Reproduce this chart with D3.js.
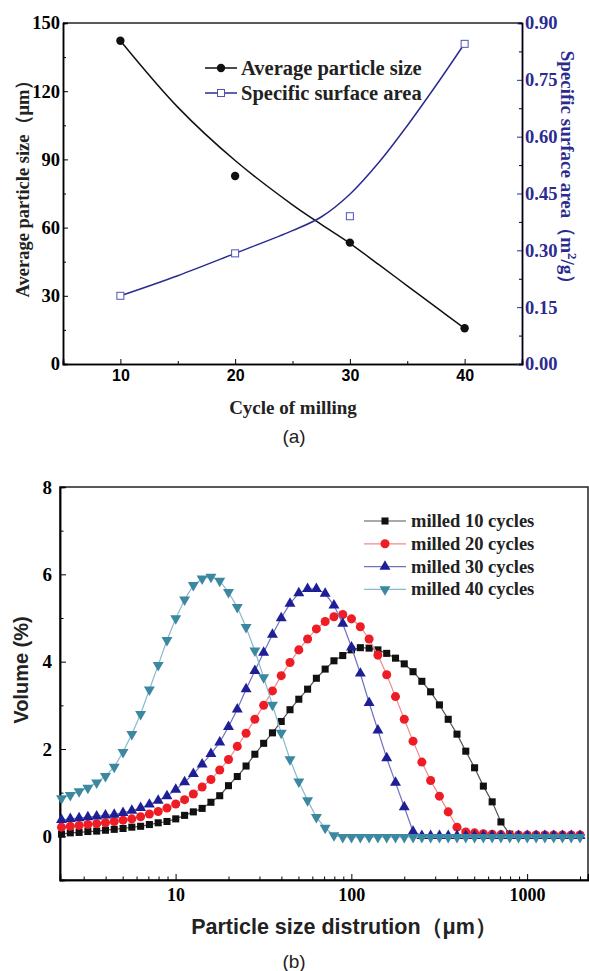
<!DOCTYPE html>
<html>
<head>
<meta charset="utf-8">
<script src="https://cdn.jsdelivr.net/npm/d3@7"></script>
<style>
  body { margin: 0; background: #fff; }
  .serif { font-family: "Liberation Serif", "DejaVu Serif", serif; font-weight: bold; }
  .sans { font-family: "Liberation Sans", Arial, sans-serif; }
</style>
</head>
<body>
<div id="chart"></div>
<script>
/////////////////////// data (a) ///////////////////////
var cycles = [10, 20, 30, 40];
var avgSize = [142.2, 82.7, 53.4, 15.7];
var surfArea = [0.18, 0.292, 0.39, 0.845];
// fitted curves
var fitCycles = [10, 15, 20, 25, 27.5, 30, 32.5, 35, 37.5, 40];
var avgSizeFit = [142.2, 113, 89.5, 70, 61.4, 53.1, 43.8, 34.4, 25.0, 15.7];
var surfAreaFit = [0.18, 0.233, 0.292, 0.352, 0.388, 0.448, 0.531, 0.629, 0.735, 0.846];
var leftTicks = [0, 30, 60, 90, 120, 150];
var rightTicks = [0, 0.15, 0.30, 0.45, 0.60, 0.75, 0.90];
var cycleTicks = [10, 20, 30, 40];

/////////////////////// data (b) ///////////////////////
var sizes = [2.244, 2.518, 2.825, 3.170, 3.557, 3.991, 4.477, 5.024, 5.637, 6.325,
  7.096, 7.962, 8.934, 10.02, 11.25, 12.62, 14.16, 15.89, 17.83, 20.00,
  22.44, 25.18, 28.25, 31.70, 35.57, 39.91, 44.77, 50.24, 56.37, 63.25,
  70.96, 79.62, 89.34, 100.2, 112.5, 126.2, 141.6, 158.9, 178.3, 200.0,
  224.4, 251.8, 282.5, 317.0, 355.7, 399.1, 447.7, 502.4, 563.7, 632.5,
  709.6, 796.2, 893.4, 1002, 1125, 1262, 1416, 1589, 1783, 2000];
var milled10 = [0.05, 0.08, 0.09, 0.11, 0.12, 0.14, 0.16, 0.18, 0.21, 0.23,
  0.27, 0.31, 0.34, 0.40, 0.48, 0.56, 0.64, 0.78, 0.93, 1.16,
  1.37, 1.61, 1.88, 2.13, 2.37, 2.63, 2.90, 3.14, 3.37, 3.62,
  3.83, 4.02, 4.14, 4.27, 4.32, 4.31, 4.27, 4.19, 4.08, 3.95,
  3.77, 3.55, 3.31, 3.01, 2.68, 2.34, 1.95, 1.57, 1.15, 0.79,
  0.33, 0.05, 0.02, 0.02, 0.02, 0.02, 0.02, 0.02, 0.02, 0.02];
var milled20 = [0.21, 0.23, 0.25, 0.27, 0.29, 0.31, 0.34, 0.37, 0.40, 0.45,
  0.51, 0.57, 0.65, 0.74, 0.84, 0.97, 1.13, 1.30, 1.52, 1.76,
  2.06, 2.36, 2.68, 3.00, 3.33, 3.68, 3.98, 4.27, 4.52, 4.75,
  4.92, 5.03, 5.08, 4.98, 4.80, 4.52, 4.15, 3.70, 3.20, 2.68,
  2.18, 1.70, 1.28, 0.92, 0.56, 0.21, 0.10, 0.08, 0.06, 0.05,
  0.04, 0.03, 0.03, 0.03, 0.03, 0.03, 0.03, 0.03, 0.03, 0.03];
var milled30 = [0.38, 0.40, 0.42, 0.44, 0.46, 0.48, 0.50, 0.54, 0.59, 0.65,
  0.73, 0.82, 0.92, 1.07, 1.24, 1.43, 1.65, 1.89, 2.15, 2.51,
  2.91, 3.37, 3.79, 4.21, 4.62, 5.00, 5.33, 5.57, 5.67, 5.67,
  5.56, 5.29, 4.87, 4.33, 3.73, 3.06, 2.43, 1.79, 1.23, 0.67,
  0.11, 0.01, 0.01, 0.01, 0.01, 0.01, 0.01, 0.01, 0.01, 0.01,
  0.01, 0.01, 0.01, 0.01, 0.01, 0.01, 0.01, 0.01, 0.01, 0.01];
var milled40 = [0.87, 0.94, 1.03, 1.11, 1.23, 1.38, 1.59, 1.93, 2.34, 2.80,
  3.36, 3.92, 4.49, 4.99, 5.42, 5.75, 5.90, 5.94, 5.85, 5.59,
  5.25, 4.79, 4.25, 3.64, 3.01, 2.37, 1.76, 1.25, 0.82, 0.44,
  0.19, 0.02, -0.02, -0.02, -0.02, -0.02, -0.02, -0.02, -0.02, -0.02,
  -0.02, -0.02, -0.02, -0.02, -0.02, -0.02, -0.02, -0.02, -0.02, -0.02,
  -0.02, -0.02, -0.02, -0.02, -0.02, -0.02, -0.02, -0.02, -0.02, -0.02];
var seriesNames = ["milled 10 cycles", "milled 20 cycles", "milled 30 cycles", "milled 40 cycles"];
var volTicks = [0, 2, 4, 6, 8];
var sizeTicks = [10, 100, 1000];

var width = 589, height = 971;
var svg = d3.select("#chart").append("svg")
  .attr("width", width).attr("height", height);

var navy = "#2b2b8f";

/////////////////////// chart (a) ///////////////////////
var xA = d3.scaleLinear().domain([5, 45]).range([63, 522]);
var yL = d3.scaleLinear().domain([0, 150]).range([364, 23]);
var yR = d3.scaleLinear().domain([0, 0.9]).range([364, 23]);

// frame top
svg.append("line").attr("x1", 63).attr("x2", 522).attr("y1", 23).attr("y2", 23)
  .attr("stroke", "#222").attr("stroke-width", 1.5);

var gxA = svg.append("g").attr("transform", "translate(0,364)")
  .call(d3.axisBottom(xA).tickValues(cycleTicks).tickSize(-5).tickPadding(6).tickFormat(d3.format("d")));
svg.append("g").attr("transform", "translate(0,364)")
  .call(d3.axisBottom(xA).tickValues([15, 25, 35]).tickSize(-3).tickFormat(""));
gxA.selectAll("text").attr("class", "sans").style("font-weight", "bold").style("font-size", "16px");

var gyL = svg.append("g").attr("transform", "translate(63,0)")
  .call(d3.axisLeft(yL).tickValues(leftTicks).tickSize(-5).tickPadding(3));
svg.append("g").attr("transform", "translate(63,0)")
  .call(d3.axisLeft(yL).tickValues([15, 45, 75, 105, 135]).tickSize(-3).tickFormat(""));
gyL.selectAll("text").attr("class", "serif").style("font-size", "18.5px");

var gyR = svg.append("g").attr("transform", "translate(522,0)")
  .call(d3.axisRight(yR).tickValues(rightTicks).tickSize(-5).tickPadding(3).tickFormat(d3.format(".2f")));
svg.append("g").attr("transform", "translate(522,0)")
  .call(d3.axisRight(yR).tickValues([0.075, 0.225, 0.375, 0.525, 0.675, 0.825]).tickSize(-3).tickFormat(""));
gyR.selectAll("text").attr("class", "serif").style("font-size", "18.5px").attr("fill", navy);

svg.selectAll(".domain").attr("stroke-width", 1.5);
gyR.select(".domain").attr("stroke", navy);
gyR.selectAll("line").attr("stroke", navy);

// fitted lines
var lineL = d3.line().x(function(d, i) { return xA(fitCycles[i]); }).y(function(d) { return yL(d); })
  .curve(d3.curveCatmullRom);
var lineR = d3.line().x(function(d, i) { return xA(fitCycles[i]); }).y(function(d) { return yR(d); })
  .curve(d3.curveCatmullRom);
svg.append("path").attr("d", lineL(avgSizeFit)).attr("fill", "none").attr("stroke", "#111").attr("stroke-width", 1.5);
svg.append("path").attr("d", lineR(surfAreaFit)).attr("fill", "none").attr("stroke", navy).attr("stroke-width", 1.5);

svg.selectAll(".ptL").data(avgSize).enter().append("circle")
  .attr("cx", function(d, i) { return xA(cycles[i]); })
  .attr("cy", function(d) { return yL(d); })
  .attr("r", 4.2).attr("fill", "#111");
svg.selectAll(".ptR").data(surfArea).enter().append("rect")
  .attr("x", function(d, i) { return xA(cycles[i]) - 3.5; })
  .attr("y", function(d) { return yR(d) - 3.5; })
  .attr("width", 7).attr("height", 7)
  .attr("fill", "#fff").attr("stroke", "#5050c0").attr("stroke-width", 1);

// legend (a)
var legA = svg.append("g");
legA.append("line").attr("x1", 205).attr("x2", 237).attr("y1", 68).attr("y2", 68).attr("stroke", "#111").attr("stroke-width", 1.5);
legA.append("circle").attr("cx", 221).attr("cy", 68).attr("r", 4.2).attr("fill", "#111");
legA.append("text").attr("class", "serif").attr("x", 241).attr("y", 75).style("font-size", "20.5px").attr("fill", "#222").text("Average particle size");
legA.append("line").attr("x1", 205).attr("x2", 237).attr("y1", 93).attr("y2", 93).attr("stroke", navy).attr("stroke-width", 1.5);
legA.append("rect").attr("x", 217.5).attr("y", 89.5).attr("width", 7).attr("height", 7)
  .attr("fill", "#fff").attr("stroke", "#5050c0").attr("stroke-width", 1);
legA.append("text").attr("class", "serif").attr("x", 241).attr("y", 100).style("font-size", "20.5px").attr("fill", "#222").text("Specific surface area");

// titles (a)
svg.append("text").attr("class", "serif").attr("x", 293).attr("y", 414).attr("text-anchor", "middle")
  .style("font-size", "19px").attr("fill", "#222").text("Cycle of milling");
svg.append("text").attr("class", "serif").attr("text-anchor", "middle")
  .attr("transform", "translate(29,184) rotate(-90)")
  .style("font-size", "18.5px").attr("fill", "#222").text("Average particle size（μm）");
var tR = svg.append("text").attr("class", "serif").attr("text-anchor", "middle")
  .attr("transform", "translate(561,172) rotate(90)")
  .style("font-size", "19px").attr("fill", navy);
tR.append("tspan").text("Specific surface area（m");
tR.append("tspan").attr("baseline-shift", "super").style("font-size", "13px").text("2");
tR.append("tspan").text("/g）");
svg.append("text").attr("class", "sans").attr("x", 294).attr("y", 443).attr("text-anchor", "middle")
  .style("font-size", "19px").attr("fill", "#222").text("(a)");

/////////////////////// chart (b) ///////////////////////
var xB = d3.scaleLog().domain([2.2, 2220]).range([60, 588]);
var yB = d3.scaleLinear().domain([-1, 8]).range([880, 487]);

svg.append("rect").attr("x", 60).attr("y", 487).attr("width", 528).attr("height", 393)
  .attr("fill", "none").attr("stroke", "#222").attr("stroke-width", 1.5);

var minorSizes = [3, 4, 5, 6, 7, 8, 9, 20, 30, 40, 50, 60, 70, 80, 90, 200, 300, 400, 500, 600, 700, 800, 900, 2000];
var gxB = svg.append("g").attr("transform", "translate(0,880)")
  .call(d3.axisBottom(xB).tickValues(sizeTicks).tickSize(-6).tickPadding(8).tickFormat(d3.format("d")));
svg.append("g").attr("transform", "translate(0,880)")
  .call(d3.axisBottom(xB).tickValues(minorSizes).tickSize(-3.5).tickFormat(""));
gxB.selectAll("text").attr("class", "serif").style("font-size", "18px");

var gyB = svg.append("g").attr("transform", "translate(60,0)")
  .call(d3.axisLeft(yB).tickValues(volTicks).tickSize(-6).tickPadding(8));
svg.append("g").attr("transform", "translate(60,0)")
  .call(d3.axisLeft(yB).tickValues([-1, 1, 3, 5, 7]).tickSize(-3.5).tickFormat(""));
gyB.selectAll("text").attr("class", "serif").style("font-size", "19px");
svg.selectAll(".domain").attr("stroke-width", 1.5);

var series = [
  { name: seriesNames[0], values: milled10, color: "#111", line: "#555", symbol: d3.symbolSquare, size: 50, rot: 0 },
  { name: seriesNames[1], values: milled20, color: "#ee1c24", line: "#f08a8a", symbol: d3.symbolCircle, size: 64, rot: 0 },
  { name: seriesNames[2], values: milled30, color: "#1e1e96", line: "#7070c0", symbol: d3.symbolTriangle, size: 52, rot: 0 },
  { name: seriesNames[3], values: milled40, color: "#3b88a0", line: "#8ab8cc", symbol: d3.symbolTriangle, size: 52, rot: 180 }
];

var lineB = d3.line().x(function(d, i) { return xB(sizes[i]); }).y(function(d) { return yB(d); });

series.forEach(function(s) {
  svg.append("path").attr("d", lineB(s.values)).attr("fill", "none")
    .attr("stroke", s.line).attr("stroke-width", 1.2);
  svg.append("g").selectAll("path").data(s.values).enter().append("path")
    .attr("d", d3.symbol().type(s.symbol).size(s.size))
    .attr("transform", function(d, i) {
      return "translate(" + xB(sizes[i]) + "," + yB(d) + ") rotate(" + s.rot + ")";
    })
    .attr("fill", s.color);
});

// legend (b)
series.forEach(function(s, i) {
  var ly = 521 + i * 22.8;
  svg.append("line").attr("x1", 364).attr("x2", 406).attr("y1", ly).attr("y2", ly)
    .attr("stroke", s.line).attr("stroke-width", 1.2);
  svg.append("path").attr("d", d3.symbol().type(s.symbol).size(s.size))
    .attr("transform", "translate(385," + ly + ") rotate(" + s.rot + ")").attr("fill", s.color);
  svg.append("text").attr("class", "serif").attr("x", 411).attr("y", ly + 6)
    .style("font-size", "18.5px").attr("fill", "#222").text(s.name);
});

// titles (b)
svg.append("text").attr("class", "sans").attr("text-anchor", "middle")
  .attr("transform", "translate(28,670) rotate(-90)")
  .style("font-size", "20px").style("font-weight", "bold").attr("fill", "#222").text("Volume (%)");
svg.append("text").attr("class", "sans").attr("x", 344).attr("y", 934).attr("text-anchor", "middle")
  .style("font-size", "21.5px").style("font-weight", "bold").attr("fill", "#222").text("Particle size distrution（μm）");
svg.append("text").attr("class", "sans").attr("x", 294).attr("y", 968).attr("text-anchor", "middle")
  .style("font-size", "19px").attr("fill", "#222").text("(b)");
</script>
</body>
</html>
